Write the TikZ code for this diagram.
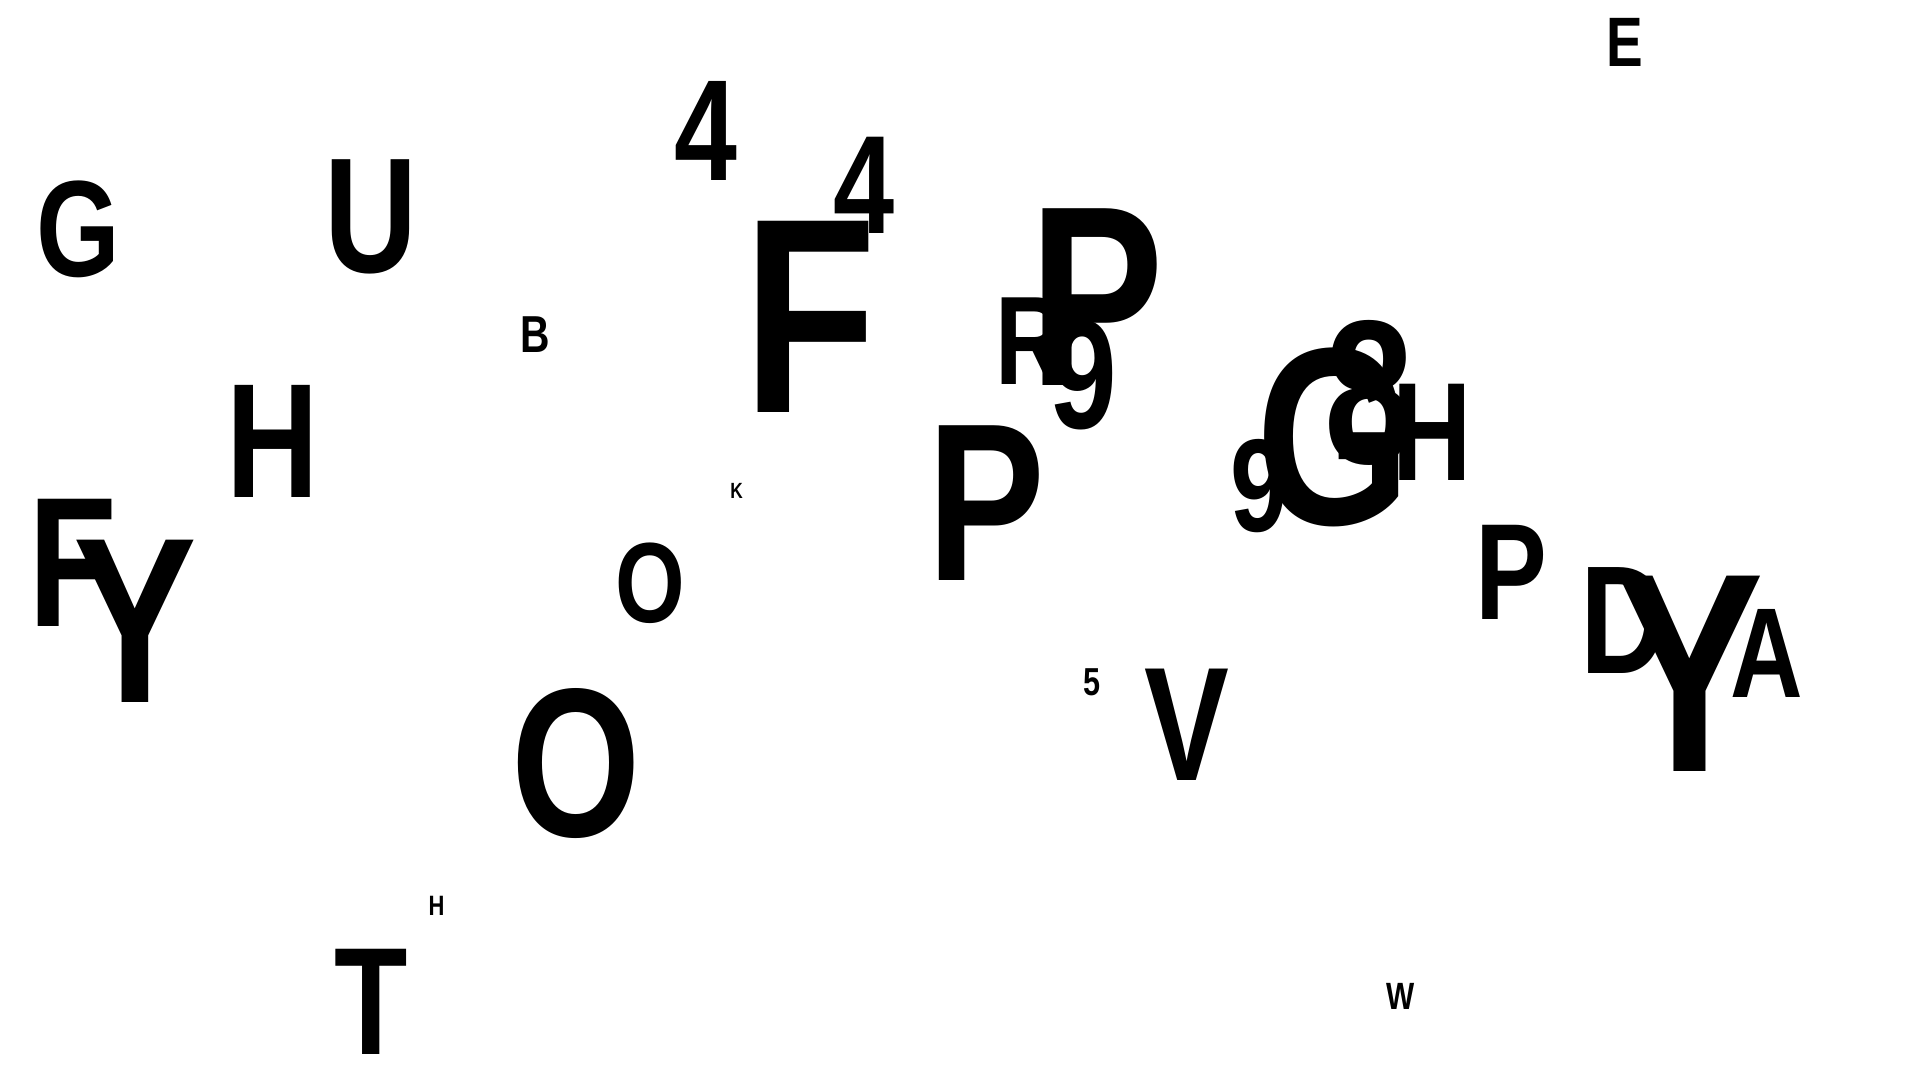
\documentclass[tikz,border=0pt]{standalone}
\usepackage{fontspec}
\usepackage{tikz}
\newfontfamily\glyphfont{Liberation Sans}[FakeStretch=0.785]
\tikzset{glyph/.style={font=\glyphfont\bfseries\fontsize{#1}{#1}\selectfont, inner sep=0pt, anchor=base, color=black}}

\begin{document}
\begin{tikzpicture}[x=1pt, y=-1pt]
            \useasboundingbox (0,0) rectangle (1920,1080);
            \fill[white] (0,0) rectangle (1920,1080);

            % top row
            \node[glyph=70] (e) at (1625,66) {E};
            \node[glyph=144] (fourA) at (705.5,180) {4};
            \node[glyph=140] (fourB) at (864,233) {4};
            \node[glyph=137] (gA) at (78.5,276) {G};
            \node[glyph=164] (u) at (371,272) {U};
            \node[glyph=52] (bA) at (535,352) {B};
            \node[glyph=278] (fA) at (810,412) {F};

            % middle cluster
            \node[glyph=257] (pA) at (1097,385) {P};
            \node[glyph=126] (r) at (1031,384) {R};
            \node[glyph=155] (nineA) at (1083,428) {9};
            \node[glyph=163] (hA) at (272.5,497) {H};
            \node[glyph=22] (k) at (736.5,498) {K};
            \node[glyph=185] (fB) at (73,626) {F};
            \node[glyph=236] (yA) at (135,702) {Y};
            \node[glyph=114] (oA) at (650.5,622.5) {O};
            \node[glyph=225] (pB) at (986,580) {P};
            \node[glyph=212] (oB) at (576.5,836) {O};
            \node[glyph=39] (five) at (1092.5,695.5) {5};
            \node[glyph=162] (v) at (1186.5,780) {V};

            % right cluster
            \node[glyph=132] (nineB) at (1259,531) {9};
            \node[glyph=253] (gB) at (1334,524) {G};
            \node[glyph=205] (eight) at (1369,463) {8};
            \node[glyph=140] (hB) at (1432,480.5) {H};
            \node[glyph=137] (pC) at (1511,619.5) {P};
            \node[glyph=154] (d) at (1624,673.5) {D};
            \node[glyph=284] (yB) at (1689.5,771) {Y};
            \node[glyph=128] (a) at (1767,697.5) {A};

            % bottom row
            \node[glyph=28] (hC) at (436.5,915) {H};
            \node[glyph=153] (t) at (371,1054) {T};
            \node[glyph=38] (w) at (1401,1009) {W};
\end{tikzpicture}
\end{document}
